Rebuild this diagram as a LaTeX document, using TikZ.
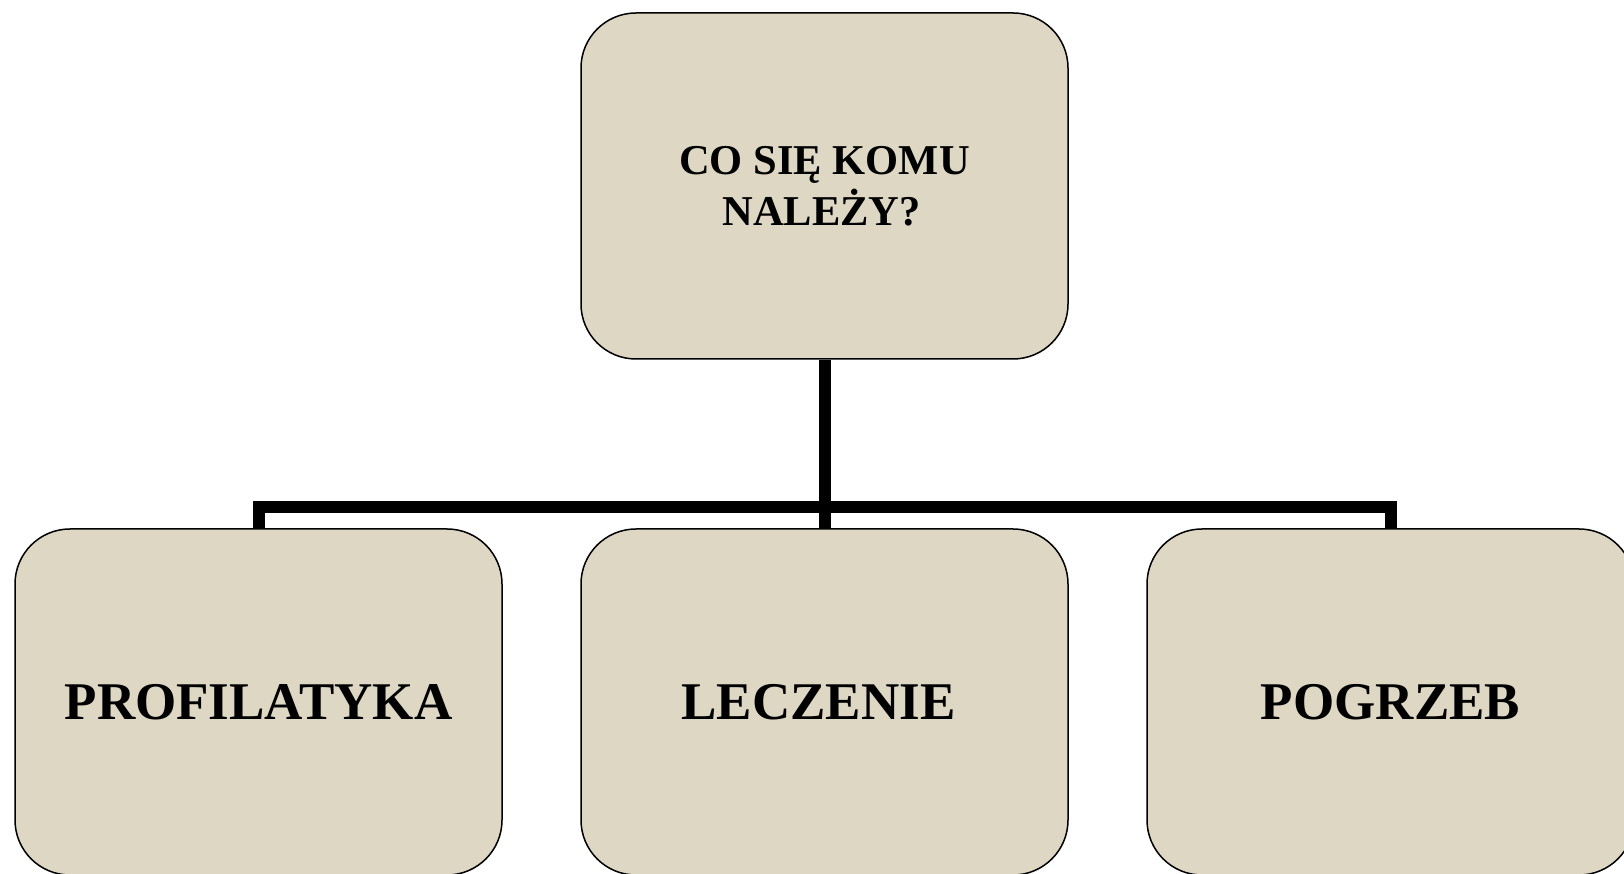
\documentclass[tikz,border=0pt]{standalone}
\usepackage{fontspec}
\setmainfont{Liberation Serif}
\usepackage{tikz}
\usetikzlibrary{calc, positioning}
\definecolor{tan}{RGB}{222, 215, 195}
\tikzset{
    roundnode/.style = {draw=black, line width=1.5pt, fill=tan, rectangle, rounded corners=55pt,
      inner sep = 0em, node distance=0em, minimum width=487pt, minimum height=346pt,
      font=\bfseries, align=center},
    topfont/.style = {font=\bfseries\fontsize{42.5}{51}\selectfont},
    bigfont/.style = {font=\bfseries\fontsize{53}{62}\selectfont},
    connect/.style = {black, line width=12pt, line join=miter}
}

\begin{document}
\begin{tikzpicture}[x=1pt, y=1pt]
    \clip (0,0) rectangle (1624,874);
    \node[roundnode, topfont, name=Top] at (824.5, 688) {\raisebox{-3pt}{CO SIĘ KOMU}\\\raisebox{-3pt}{NALEŻY?}\hspace*{6pt}};
    \node[roundnode, bigfont, name=Leczenie, below of=Top, yshift=-516pt] {\raisebox{-3pt}{LECZENIE}\hspace*{12pt}};
    \node[roundnode, bigfont, name=Profilatyka, left of=Leczenie, xshift=-566pt] {\raisebox{-3pt}{PROFILATYKA}};
    \node[roundnode, bigfont, name=Pogrzeb, right of=Leczenie, xshift=566pt] {\raisebox{-3pt}{POGRZEB}};

    \coordinate (Bar) at ($(Top.south)+(0,-147.5)$);
    \draw[connect] (Top.south) -- (Leczenie.north);
    \draw[connect] (Profilatyka.north) |- (Bar) -| (Pogrzeb.north);
\end{tikzpicture}
\end{document}
